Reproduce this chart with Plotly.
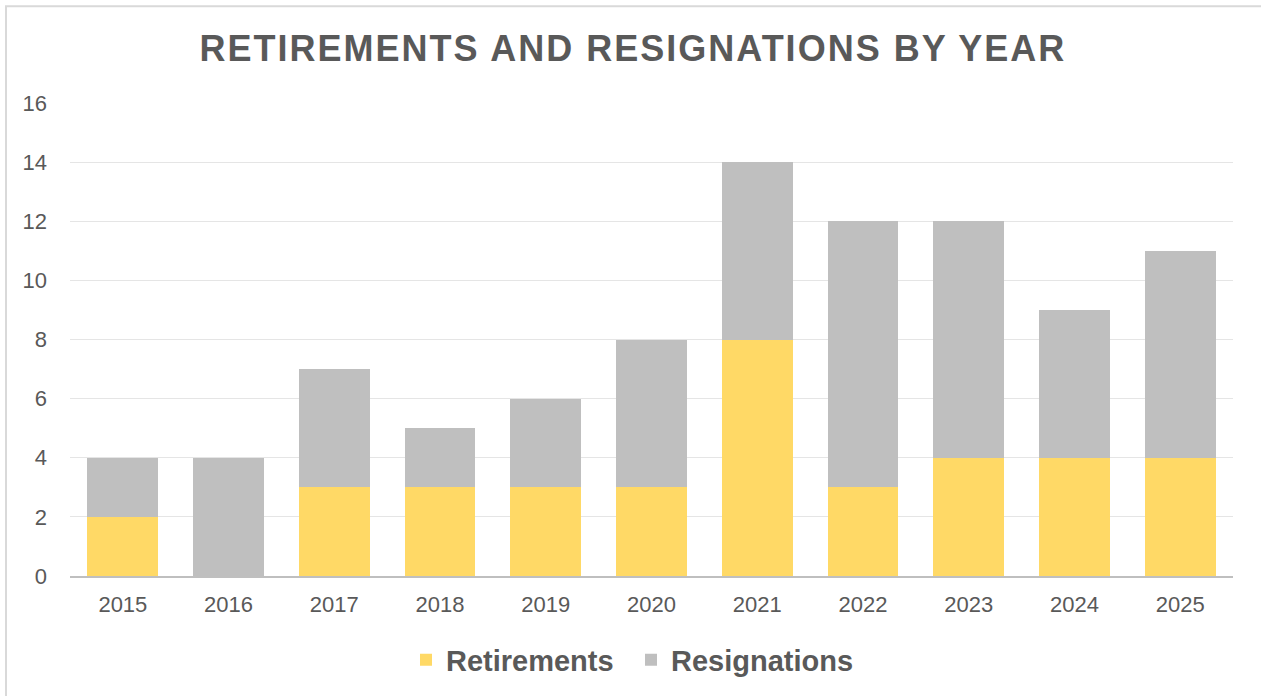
import plotly.graph_objects as go

years = ["2015", "2016", "2017", "2018", "2019", "2020", "2021", "2022", "2023", "2024", "2025"]
retirements = [2, 0, 3, 3, 3, 3, 8, 3, 4, 4, 4]
resignations = [2, 4, 4, 2, 3, 5, 6, 9, 8, 5, 7]

W, H = 1261, 696
L, R, T, B = 70, 28, 103, 119
pw, ph = W - L - R, H - T - B

fig = go.Figure()
fig.add_trace(go.Bar(x=years, y=retirements, name="Retirements", marker_color="#FFD966", marker_line_width=0))
fig.add_trace(go.Bar(x=years, y=resignations, name="Resignations", marker_color="#BFBFBF", marker_line_width=0))

font = "Liberation Sans, Arial, sans-serif"
fig.update_layout(
    barmode="stack",
    bargap=0.33,
    width=W, height=H,
    margin=dict(l=L, r=R, t=T, b=B),
    paper_bgcolor="white",
    plot_bgcolor="white",
    title=dict(text="<b><span style='letter-spacing:2px'>RETIREMENTS AND RESIGNATIONS BY YEAR</span></b>",
               x=(633 - L) / pw, xref="paper", xanchor="center",
               y=1 - 48 / H, yanchor="middle",
               font=dict(family=font, size=36, color="#595959")),
    legend=dict(orientation="h", x=(406 - L) / pw, xanchor="left", y=-(660 - 577) / ph, yanchor="middle",
                font=dict(family=font, size=29, color="#595959", weight="bold"),
                entrywidth=180, entrywidthmode="pixels",
                itemsizing="constant", traceorder="normal"),
    showlegend=True,
    xaxis=dict(showgrid=False, showline=True, linecolor="#BFBFBF", linewidth=2,
               tickfont=dict(family=font, size=22, color="#595959"),
               ticks="", ticklabelstandoff=8),
    yaxis=dict(range=[0, 16], dtick=2, showgrid=True, gridcolor="#E5E5E5", gridwidth=1,
               zeroline=False, showline=False,
               tickfont=dict(family=font, size=22, color="#595959"),
               ticks="", ticklabelstandoff=22),
    shapes=[dict(type="rect", xref="paper", yref="paper",
                 x0=(6 - L) / pw, x1=(W + 10 - L) / pw,
                 y0=(577 - H - 10) / ph, y1=(577 - 6) / ph,
                 line=dict(color="#D9D9D9", width=2), fillcolor="rgba(0,0,0,0)", layer="below")],
)

fig.write_html("out.html")
